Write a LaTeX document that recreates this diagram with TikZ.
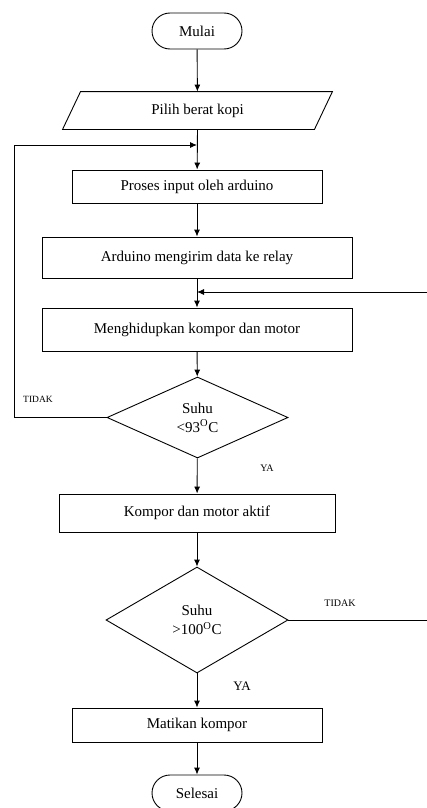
\documentclass[tikz,border=0pt]{standalone}
\usepackage{fontspec}
\setmainfont{Liberation Serif}
\usetikzlibrary{shapes.geometric,shapes.misc,arrows.meta,calc}
\begin{document}
\begin{tikzpicture}[x=1pt,y=-1pt,line width=0.9pt,
  txt/.style={font=\fontsize{15}{19}\selectfont},
  procbox/.style={draw,rectangle,inner sep=0pt,txt},
  term/.style={draw,rounded rectangle,minimum width=90pt,minimum height=36pt,inner sep=0pt,txt},
  dec/.style={draw,diamond,inner sep=0pt,align=center,txt},
  lbl/.style={inner sep=0pt,font=\fontsize{9.5}{11}\selectfont},
  arr/.style={-{Latex[length=7pt,width=6pt]}}]
\useasboundingbox (0,0) rectangle (427,808);

\node[term] (mulai) at (197,31) {Mulai};
\node[inner sep=0pt,minimum width=251pt,minimum height=37pt,txt] (pilih) at (197.5,110.5) {Pilih berat kopi};
\draw ($(pilih.south west)+(-9,0)$) -- ($(pilih.north west)+(9,0)$) -- ($(pilih.north east)+(9,0)$) -- ($(pilih.south east)+(-9,0)$) -- cycle;
\node[procbox,minimum width=250pt,minimum height=33pt] (proses) at (197,186.5) {Proses input oleh arduino};
\node[procbox,minimum width=310pt,minimum height=41pt] (kirim) at (197,257.5) {Arduino mengirim data ke relay};
\node[procbox,minimum width=310pt,minimum height=43pt] (hidup) at (197,329.5) {Menghidupkan kompor dan motor};
\node[dec,minimum width=181pt,minimum height=81pt] (d1) at (197.5,417.5) {Suhu\\<93\textsuperscript{O}C};
\node[procbox,minimum width=276pt,minimum height=38pt] (aktif) at (197,513) {Kompor dan motor aktif};
\node[dec,minimum width=182pt,minimum height=106pt] (d2) at (197,620) {Suhu\\>100\textsuperscript{O}C};
\node[procbox,minimum width=250pt,minimum height=34pt] (mati) at (197,725) {Matikan kompor};
\node[term] (selesai) at (197,793) {Selesai};

\coordinate (j1) at (197,145);
\coordinate (j2) at (197,292);
\coordinate (lp) at (14,145);
\coordinate (rp) at (429,292);

\draw[arr] (mulai) -- (pilih);
\draw[arr] (pilih.south) -- (proses);
\draw[arr] (proses) -- (kirim);
\draw[arr] (kirim) -- (hidup);
\draw[arr] (hidup) -- (d1);
\draw[arr] (d1) -- (aktif);
\draw[arr] (aktif) -- (d2);
\draw[arr] (d2) -- (mati);
\draw[arr] (mati) -- (selesai);

\draw[arr] (d1.west) -| (lp) -- (j1);
\draw[arr] (d2.east) -| (rp) -- (j2);

\node[lbl] (t1) at (38,399) {TIDAK};
\node[lbl,font=\fontsize{10}{12}\selectfont] (y1) at (267,468) {YA};
\node[lbl,font=\fontsize{10}{12}\selectfont] (t2) at (340,603) {TIDAK};
\node[lbl,font=\fontsize{13}{15}\selectfont] (y2) at (242,686) {YA};
\end{tikzpicture}
\end{document}
